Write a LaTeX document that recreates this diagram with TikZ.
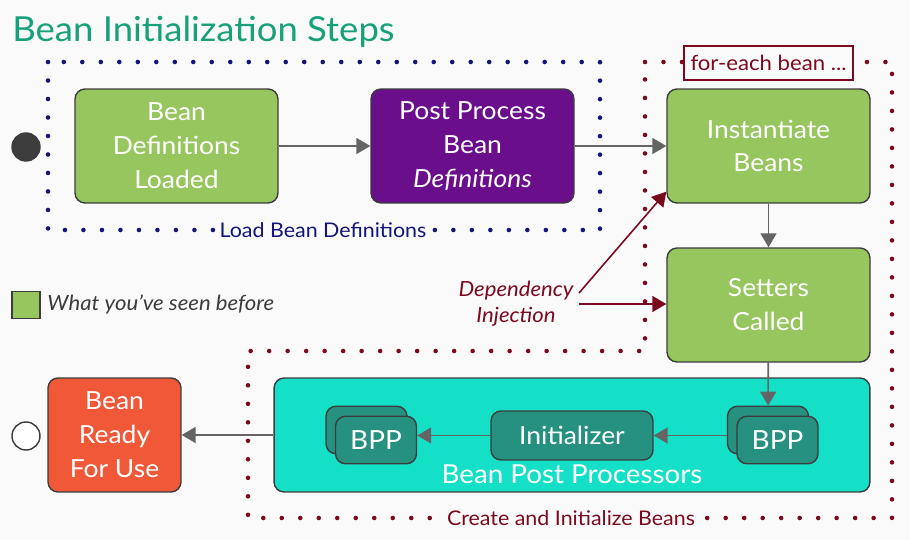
\documentclass[tikz,border=0pt]{standalone}
\usepackage{fontspec}
\setmainfont{Lato}[FakeStretch=1.06]
\usetikzlibrary{arrows.meta,calc}

\definecolor{pagebg}{HTML}{FAFAFA}
\definecolor{titlegreen}{HTML}{17A07A}
\definecolor{seengreen}{HTML}{97C65E}
\definecolor{ppurple}{HTML}{6A0E8C}
\definecolor{readyred}{HTML}{F05838}
\definecolor{bpcteal}{HTML}{14E0C8}
\definecolor{bppteal}{HTML}{269180}
\definecolor{loadnavy}{HTML}{14147A}
\definecolor{eachred}{HTML}{7B0A1E}
\definecolor{flowgray}{HTML}{646464}
\definecolor{edgegray}{HTML}{3C3C3C}

\newcommand\boxfont{\fontsize{14.2}{19.3}\selectfont}
\newcommand\notefont{\fontsize{11.5}{14.5}\selectfont}
\newcommand\sidefont{\fontsize{11.9}{14.8}\selectfont}

\tikzset{
	stage/.style={draw=edgegray, line width=0.8pt, rounded corners=0.2cm, minimum width=4.06cm, minimum height=2.28cm, inner sep=0pt, text=white, align=center, font=\boxfont},
	bppbox/.style={draw=edgegray, line width=0.8pt, fill=bppteal, rounded corners=0.2cm, minimum width=1.62cm, minimum height=0.95cm, inner sep=0pt, text=white, font=\fontsize{15}{18}\selectfont},
	flow/.style={draw=flowgray, line width=0.9pt, -{Triangle[length=0.28cm,width=0.32cm]}},
	inject/.style={draw=eachred, line width=0.9pt, -{Triangle[length=0.28cm,width=0.32cm]}},
	dotline/.style={line width=2.6pt, line cap=round, dash pattern=on 0pt off 0.37cm},
	pseudo/.style={circle, draw=edgegray, line width=0.8pt, minimum size=0.56cm, inner sep=0pt}
}

\begin{document}
\begin{tikzpicture}[x=0.02cm, y=-0.02cm]
	%%%%% START %%%%%
	
	\fill[pagebg] (0, 0) rectangle (910, 540);
	\useasboundingbox (0, 0) rectangle (910, 540);
	
	\node[anchor=base west, inner sep=0pt, text=titlegreen, font=\fontsize{19.6}{23}\selectfont] (title) at (12, 42) {Bean Initialization Steps};
	
	% dotted groups
	\draw[dotline, loadnavy] (48, 62) rectangle (600, 230);
	\draw[dotline, eachred] (645, 62) -- (892, 62) -- (892, 518) -- (248, 518) -- (248, 351) -- (645, 351) -- cycle;
	
	\node[fill=pagebg, text=loadnavy, font=\notefont, inner sep=2pt] (loadlbl) at (323, 230) {Load Bean Definitions};
	\node[fill=pagebg, text=eachred, font=\notefont, inner sep=2pt] (createlbl) at (571, 518) {Create and Initialize Beans};
	\node[draw=eachred, line width=0.8pt, fill=pagebg, text=eachred, font=\sidefont, minimum width=3.38cm, minimum height=0.68cm, inner sep=0pt] (foreach) at (768.5, 63) {for-each bean ...};
	
	% states
	\node[pseudo, fill=edgegray] (start) at (26, 147) {};
	\node[pseudo, fill=white] (stop) at (26, 436) {};
	
	\node[stage, fill=seengreen] (loaded) at (176.5, 146) {Bean\\Definitions\\Loaded};
	\node[stage, fill=ppurple] (postproc) at (472.5, 146) {Post Process\\Bean\\\itshape Definitions};
	\node[stage, fill=seengreen] (instantiate) at (768.5, 146) {Instantiate\\Beans};
	\node[stage, fill=seengreen] (setters) at (768.5, 305) {Setters\\Called};
	
	\node[stage, fill=bpcteal, minimum width=11.92cm] (bpc) at (572, 435) {};
	\node[text=white, font=\fontsize{14.9}{18}\selectfont] (bpclbl) at (572, 474) {Bean Post Processors};
	\node[stage, fill=readyred, minimum width=2.66cm] (ready) at (114.5, 435) {Bean\\Ready\\For Use};
	
	\node[bppbox] (bppLback) at (366.5, 430) {};
	\node[bppbox] (bppL) at (376, 440) {BPP};
	\node[bppbox] (bppRback) at (768, 430) {};
	\node[bppbox] (bppR) at (777.5, 440) {BPP};
	\node[bppbox, minimum width=3.24cm, minimum height=0.98cm, font=\boxfont] (init) at (572, 435.5) {Initializer};
	
	% legend
	\node[draw=edgegray, line width=0.6pt, fill=seengreen, minimum width=0.56cm, minimum height=0.54cm, inner sep=0pt] (seen) at (26, 305) {};
	\node[anchor=west, text=edgegray, font=\sidefont\itshape, inner sep=0pt] (seenlbl) at (47, 304) {What you've seen before};
	
	% dependency injection
	\node[text=eachred, font=\sidefont\itshape, align=center] (dinj) at (516, 304) {Dependency\\Injection};
	\coordinate (dinjA) at (579, 293);
	\coordinate (dinjB) at (579, 304);
	
	% connectors
	\draw[flow] (loaded) -- (postproc);
	\draw[flow] (postproc) -- (instantiate);
	\draw[flow] (instantiate) -- (setters);
	\draw[flow] (setters) -- (bppRback);
	\draw[flow] (bppRback.west |- init) -- (init);
	\draw[flow] (init) -- (init -| bppL.east);
	\draw[flow] (bpc.west) -- (ready.east);
	
	\draw[inject] (dinjA) -- ([yshift=0.24cm]instantiate.south west);
	\draw[inject] (dinjB) -- (setters.west |- dinjB);
	
	%%%%% END %%%%%
\end{tikzpicture}
\end{document}
